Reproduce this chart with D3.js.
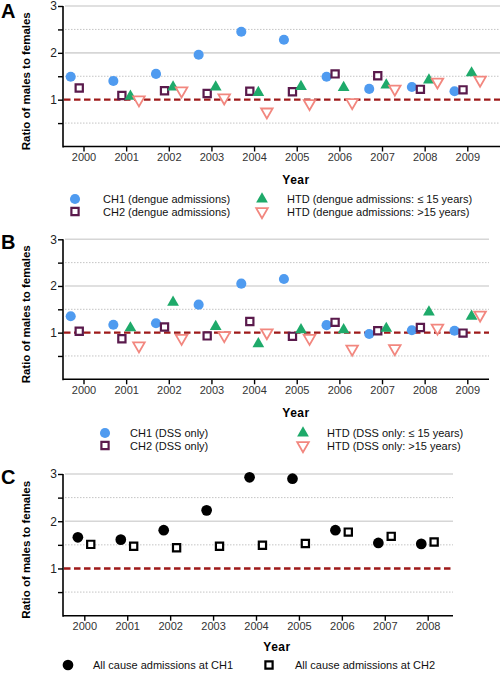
<!DOCTYPE html>
<html><head><meta charset="utf-8">
<script src="https://cdn.jsdelivr.net/npm/d3@7"></script>
<style>
body{margin:0;background:#fff;}
svg{display:block;font-family:"Liberation Sans",Arial,sans-serif;}
</style></head>
<body><svg id="c" width="500" height="675"></svg>
<script>
// ---------- DATA ----------
const yearsAB = [2000,2001,2002,2003,2004,2005,2006,2007,2008,2009];
const yearsC = [2000,2001,2002,2003,2004,2005,2006,2007,2008];
const yTicks = [0.5,1,1.5,2,2.5,3];

// Panel A: dengue admissions
const A_CH1 = [1.49,1.40,1.55,1.96,2.45,2.28,1.49,1.23,1.27,1.18];
const A_CH2 = [1.25,1.09,1.19,1.13,1.18,1.17,1.55,1.51,1.22,1.21];
const A_HTDle15 = [null,1.07,1.27,1.27,1.15,1.28,1.26,1.31,1.42,1.57];
const A_HTDgt15 = [null,1.00,1.19,1.04,0.74,0.92,0.94,1.23,1.38,1.42];

// Panel B: DSS only
const B_CH1 = [1.35,1.17,1.20,1.60,2.05,2.15,1.16,0.97,1.05,1.04];
const B_CH2 = [1.03,0.87,1.12,0.93,1.24,0.92,1.22,1.04,1.11,0.99];
const B_HTDle15 = [null,1.10,1.65,1.13,0.76,1.06,1.06,1.09,1.44,1.35];
const B_HTDgt15 = [null,0.72,0.88,0.94,1.00,0.88,0.65,0.66,1.10,1.38];

// Panel C: all cause admissions
const C_CH1 = [1.66,1.61,1.81,2.23,2.93,2.90,1.81,1.54,1.52];
const C_CH2 = [1.51,1.47,1.44,1.47,1.49,1.53,1.77,1.68,1.56];

const legendA = ["CH1 (dengue admissions)","CH2 (dengue admissions)","HTD (dengue admissions: \u2264 15 years)","HTD (dengue admissions: >15 years)"];
const legendB = ["CH1 (DSS only)","CH2 (DSS only)","HTD (DSS only: \u2264 15 years)","HTD (DSS only: >15 years)"];
const legendC = ["All cause admissions at CH1","All cause admissions at CH2"];
const yTitle = "Ratio of males to females";
const xTitle = "Year";

// ---------- STYLES ----------
const styles = {
  ch1:{type:d3.symbolCircle,size:80,fill:"#4f9bf0",stroke:"none",sw:0,rot:0},
  ch2:{type:d3.symbolSquare,size:52,fill:"#fff",stroke:"#5a1a4c",sw:2.2,rot:0},
  tri:{type:d3.symbolTriangle,size:60,fill:"#1eaa6a",stroke:"none",sw:0,rot:0},
  inv:{type:d3.symbolTriangle,size:58,fill:"#fff",stroke:"#f2877f",sw:1.8,rot:180},
  bl:{type:d3.symbolCircle,size:90,fill:"#000",stroke:"none",sw:0,rot:0},
  bsq:{type:d3.symbolSquare,size:52,fill:"#fff",stroke:"#000",sw:2.2,rot:0}
};

const svg = d3.select("#c");

function sym(g, st, x, y){
  g.append("path").attr("d", d3.symbol().type(st.type).size(st.size)())
   .attr("transform", `translate(${x},${y}) rotate(${st.rot})`)
   .attr("fill", st.fill).attr("stroke", st.stroke).attr("stroke-width", st.sw);
}

function panel(cfg){
  const g = svg.append("g");
  const x = d3.scaleLinear().domain([cfg.years[0], cfg.years[cfg.years.length-1]]).range(cfg.xr);
  const y = d3.scaleLinear().domain([0,3]).range(cfg.yr);
  const step = x(cfg.years[1]) - x(cfg.years[0]);
  const left = 63, right = cfg.right;

  // grid
  [0.5,1.5,2.5].forEach(v=>{
    g.append("line").attr("x1",left+2).attr("x2",right).attr("y1",y(v)).attr("y2",y(v))
     .attr("stroke","#c4c4c4").attr("stroke-width",1).attr("stroke-dasharray","1.5,1.5");
  });
  [2,3].forEach(v=>{
    g.append("line").attr("x1",left+2).attr("x2",right).attr("y1",y(v)).attr("y2",y(v))
     .attr("stroke","#d6d6d6").attr("stroke-width",1.6);
  });
  // reference line
  g.append("line").attr("x1",left+1).attr("x2",right).attr("y1",y(1)).attr("y2",y(1))
   .attr("stroke","#9e1a1a").attr("stroke-width",2.4).attr("stroke-dasharray","6.5,3.5");

  // axes
  const ya = g.append("g").attr("transform",`translate(${left},0)`)
    .call(d3.axisLeft(y).tickValues(yTicks).tickSize(5).tickSizeOuter(0)
      .tickFormat(d=>Number.isInteger(d)?d:""));
  ya.select(".domain").remove();
  g.append("line").attr("x1",left).attr("x2",left).attr("y1",y(3)).attr("y2",y(0)+1)
   .attr("stroke","#000").attr("stroke-width",1.6);
  ya.selectAll(".tick line").attr("stroke","#000").attr("stroke-width",1.4);
  ya.selectAll(".tick text").attr("font-size",12).attr("fill","#222").attr("x",-6);

  const xa = g.append("g").attr("transform",`translate(0,${y(0)})`)
    .call(d3.axisBottom(x).tickValues(cfg.years).tickSize(5).tickPadding(2).tickFormat(d3.format("d")));
  xa.select(".domain").remove();
  g.append("line").attr("x1",left).attr("x2",right).attr("y1",y(0)).attr("y2",y(0))
   .attr("stroke","#000").attr("stroke-width",1.6);
  xa.selectAll(".tick line").attr("stroke","#000").attr("stroke-width",1.4);
  xa.selectAll(".tick text").attr("font-size",11).attr("fill","#333");

  // titles
  g.append("text").attr("transform",`translate(${cfg.ylabX},${(y(0)+y(3))/2+5}) rotate(-90)`)
   .attr("text-anchor","middle").attr("font-size",11.5).attr("font-weight","bold")
   .attr("textLength",138).attr("lengthAdjust","spacing").text(yTitle);
  g.append("text").attr("x",cfg.xTitleX).attr("y",cfg.xTitleY).attr("text-anchor","middle")
   .attr("font-size",12).attr("font-weight","bold").attr("letter-spacing",0.5).text(xTitle);
  g.append("text").attr("x",1).attr("y",cfg.letterY).attr("font-size",20)
   .attr("font-weight","bold").text(cfg.letter);

  // points
  cfg.series.forEach(s=>{
    s.values.forEach((v,i)=>{
      if(v==null) return;
      sym(g, styles[s.style], x(cfg.years[i]) + s.off*step, y(v));
    });
  });

  // legend
  cfg.legend.forEach(l=>{
    sym(g, styles[l.style], l.mx, l.y);
    g.append("text").attr("x",l.tx).attr("y",l.y+4).attr("font-size",11)
     .attr("fill","#111").text(l.label);
  });
}

panel({
  letter:"A", letterY:18, years:yearsAB, xr:[83.5,467.3], yr:[146.5,6], right:500,
  ylabX:30, xTitleX:296, xTitleY:184,
  series:[
    {values:A_CH1,style:"ch1",off:-0.3},{values:A_CH2,style:"ch2",off:-0.1},
    {values:A_HTDle15,style:"tri",off:0.1},{values:A_HTDgt15,style:"inv",off:0.3}],
  legend:[
    {style:"ch1",mx:75,tx:103,y:199,label:legendA[0]},
    {style:"ch2",mx:75,tx:103,y:211.5,label:legendA[1]},
    {style:"tri",mx:262,tx:287,y:199,label:legendA[2]},
    {style:"inv",mx:262,tx:287,y:211.5,label:legendA[3]}]
});

panel({
  letter:"B", letterY:249, years:yearsAB, xr:[83.5,467.3], yr:[379.3,239.3], right:489,
  ylabX:30, xTitleX:296, xTitleY:417,
  series:[
    {values:B_CH1,style:"ch1",off:-0.3},{values:B_CH2,style:"ch2",off:-0.1},
    {values:B_HTDle15,style:"tri",off:0.1},{values:B_HTDgt15,style:"inv",off:0.3}],
  legend:[
    {style:"ch1",mx:105,tx:130,y:433,label:legendB[0]},
    {style:"ch2",mx:105,tx:130,y:445.5,label:legendB[1]},
    {style:"tri",mx:303,tx:327,y:433,label:legendB[2]},
    {style:"inv",mx:303,tx:327,y:445.5,label:legendB[3]}]
});

panel({
  letter:"C", letterY:484, years:yearsC, xr:[84.3,427.7], yr:[615.7,474], right:453,
  ylabX:30, xTitleX:277, xTitleY:651,
  series:[{values:C_CH1,style:"bl",off:-0.15},{values:C_CH2,style:"bsq",off:0.15}],
  legend:[
    {style:"bl",mx:68,tx:93,y:665,label:legendC[0]},
    {style:"bsq",mx:269,tx:295,y:665,label:legendC[1]}]
});
</script></body></html>
